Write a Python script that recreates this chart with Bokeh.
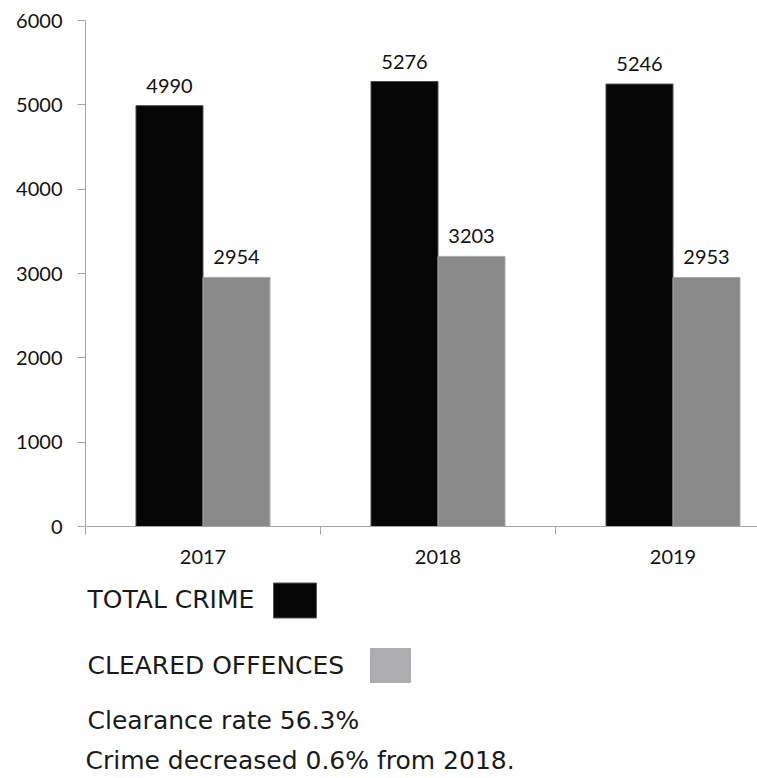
from bokeh.plotting import figure
from bokeh.models import (ColumnDataSource, Range1d, FixedTicker, LabelSet)
from bokeh.transform import dodge
from bokeh.layouts import column
from bokeh.core.properties import value
from bokeh.embed import file_html
from bokeh.resources import INLINE
import numpy as np

# ---- data ----
years = ["2017", "2018", "2019"]
total_crime = [4990, 5276, 5246]
cleared_offences = [2954, 3203, 2953]
y_ticks = [0, 1000, 2000, 3000, 4000, 5000, 6000]
legend_labels = ["TOTAL CRIME", "CLEARED OFFENCES"]
notes = ["Clearance rate 56.3%", "Crime decreased 0.6% from 2018."]

# ---- styles ----
BLACK = "#060606"
GRAY = "#898989"
LEGEND_GRAY = "#adadb0"
AXIS = "#a6a6a6"
TICK_FONT = "Lato"
NOTE_FONT = "DejaVu Sans"

centers = np.arange(len(years)) + 0.5
src = ColumnDataSource(dict(
    x=centers,
    total=total_crime,
    cleared=cleared_offences,
    total_lbl=[str(v) for v in total_crime],
    cleared_lbl=[str(v) for v in cleared_offences],
))

W = 757
H_TOP = 576
LEFT = 85
p = figure(width=W, height=H_TOP, output_backend="svg", toolbar_location=None,
           x_range=Range1d(0, (W - LEFT) / 235), y_range=Range1d(0, 6000),
           min_border_left=LEFT, min_border_right=0, min_border_top=20,
           min_border_bottom=50)
p.outline_line_color = None
p.xgrid.visible = False
p.ygrid.visible = False
p.background_fill_color = "white"

bw = 0.285
off = 0.1426
p.vbar(x=dodge("x", -off, range=p.x_range), top="total", width=bw, source=src,
       fill_color=BLACK, line_color="#4a4a4a", line_width=1)
p.vbar(x=dodge("x", off, range=p.x_range), top="cleared", width=bw, source=src,
       fill_color=GRAY, line_color="#a9a9a9", line_width=1)

for col, o in (("total", -off), ("cleared", off)):
    p.add_layout(LabelSet(x=dodge("x", o, range=p.x_range), y=col, text=col + "_lbl",
                          source=src, y_offset=13, text_align="center",
                          text_baseline="alphabetic", text_font=value(TICK_FONT),
                          text_font_size="20px", text_color="#111111"))

# y axis
ya = p.yaxis[0]
ya.ticker = FixedTicker(ticks=y_ticks)
ya.axis_line_color = AXIS
ya.major_tick_line_color = AXIS
ya.major_tick_in = 0
ya.major_tick_out = 8
ya.minor_tick_line_color = None
ya.major_label_standoff = 15
ya.major_label_text_font = TICK_FONT
ya.major_label_text_font_size = "20px"
ya.major_label_text_color = "#111111"

# x axis
xa = p.xaxis[0]
xa.ticker = FixedTicker(ticks=list(centers), minor_ticks=list(range(len(years) + 1)))
xa.major_label_overrides = {float(c): y for c, y in zip(centers, years)}
xa.axis_line_color = AXIS
xa.major_tick_line_color = None
xa.major_tick_in = 0
xa.major_tick_out = 0
xa.minor_tick_line_color = AXIS
xa.minor_tick_in = 0
xa.minor_tick_out = 8
xa.major_label_standoff = 15
xa.major_label_text_font = TICK_FONT
xa.major_label_text_font_size = "20px"
xa.major_label_text_color = "#111111"

# ---- bottom panel: legend + notes (page pixel coordinates) ----
H_BOT = 778 - H_TOP
q = figure(width=W, height=H_BOT, output_backend="svg", toolbar_location=None,
           x_range=Range1d(LEFT, W), y_range=Range1d(H_TOP + H_BOT, H_TOP),
           min_border=0, min_border_left=LEFT, min_border_right=0,
           x_axis_type=None, y_axis_type=None)
q.outline_line_color = None
q.xgrid.visible = False
q.ygrid.visible = False

text_x = [87, 87, 87, 85]
text_y = [599, 664.5, 719.5, 760]
q.text(x=text_x, y=text_y, text=legend_labels + notes,
       text_font=value(NOTE_FONT), text_font_size="25px",
       text_baseline="middle", text_align="left", text_color="#1a1a1a")
q.rect(x=[294.5, 390], y=[600, 665], width=[43, 40], height=[35, 34],
       fill_color=[BLACK, LEGEND_GRAY], line_color=["#555555", LEGEND_GRAY])

layout = column(p, q, spacing=0)
open("out.html", "w").write(file_html(layout, INLINE))
